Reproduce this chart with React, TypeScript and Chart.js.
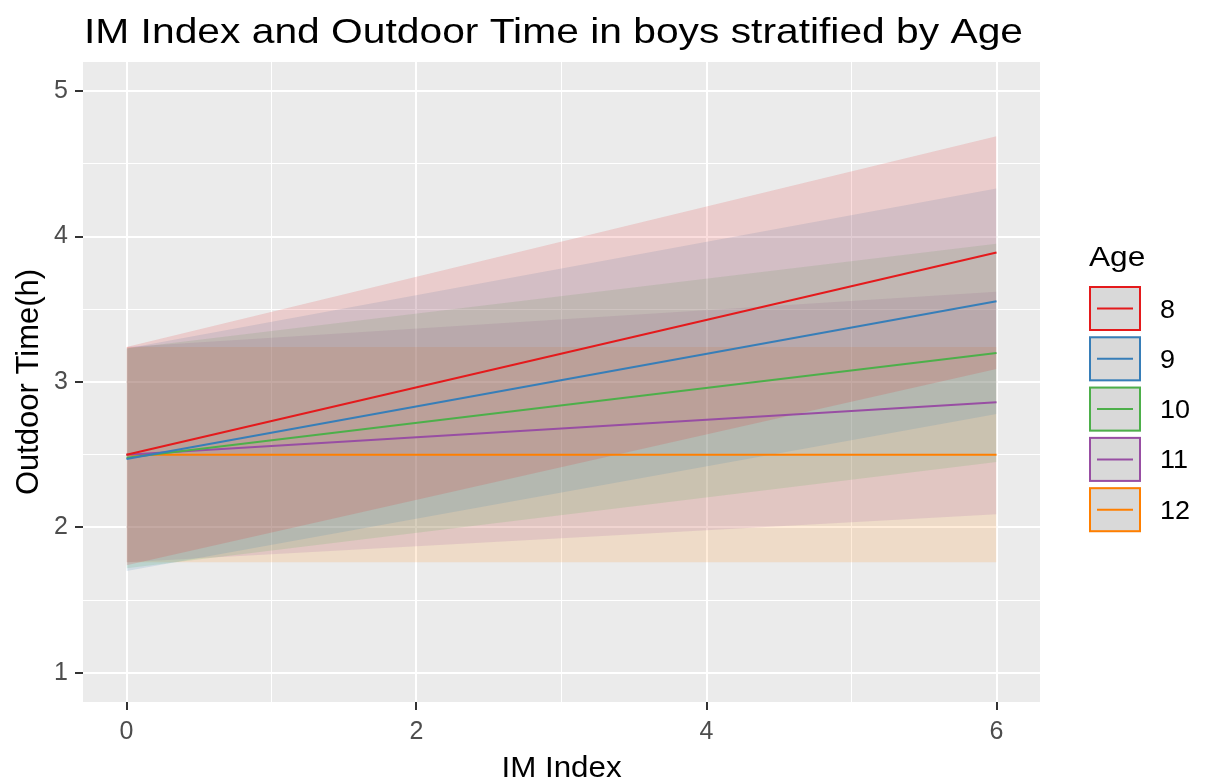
import { useEffect, useRef } from "react";
import { Chart, registerables } from "chart.js";

Chart.register(...registerables);

// IM Index range covered by each fitted line
const imIndex = [0, 6];

// Age groups and their colours (ColorBrewer Set1)
const ages = ["8", "9", "10", "11", "12"];
const ageColors = ["#E41A1C", "#377EB8", "#4DAF4A", "#984EA3", "#FF7F00"];

// Fitted outdoor time at IM Index 0 and 6
const fitStart = [2.5, 2.47, 2.48, 2.5, 2.5];
const fitEnd = [3.89, 3.555, 3.2, 2.86, 2.5];

// Confidence band bounds at IM Index 0 and 6
const upperStart = [3.24, 3.23, 3.23, 3.24, 3.24];
const upperEnd = [4.69, 4.33, 3.95, 3.62, 3.24];
const lowerStart = [1.74, 1.7, 1.72, 1.76, 1.76];
const lowerEnd = [3.09, 2.78, 2.45, 2.09, 1.76];

// Axis ticks (majors labelled, minors only draw a thin grid line)
const xTicks = [0, 1, 2, 3, 4, 5, 6];
const xMajor = [0, 2, 4, 6];
const yTicks = [1, 1.5, 2, 2.5, 3, 3.5, 4, 4.5, 5];
const yMajor = [1, 2, 3, 4, 5];

const chartTitle = "IM Index and Outdoor Time in boys stratified by Age";
const legendTitle = "Age";
const xTitle = "IM Index";
const yTitle = "Outdoor Time(h)";

const FONT = "'Liberation Sans', Arial, Helvetica, sans-serif";

function hexToRgba(hex: string, a: number) {
  const n = parseInt(hex.slice(1), 16);
  return `rgba(${(n >> 16) & 255}, ${(n >> 8) & 255}, ${n & 255}, ${a})`;
}

const pts = (a: number, b: number) => [
  { x: imIndex[0], y: a },
  { x: imIndex[1], y: b },
];

// Draws text with a horizontal stretch factor
function wideText(ctx: CanvasRenderingContext2D, text: string, x: number, y: number, sx: number, align: "left" | "center" = "left") {
  ctx.save();
  ctx.translate(x, y);
  ctx.scale(sx, 1);
  ctx.textAlign = align;
  ctx.fillText(text, 0, 0);
  ctx.restore();
}

const panelPlugin = {
  id: "panelBackground",
  beforeDraw(chart: any) {
    const { ctx, chartArea } = chart;
    ctx.save();
    ctx.fillStyle = "#EBEBEB";
    ctx.fillRect(
      chartArea.left,
      chartArea.top,
      chartArea.right - chartArea.left,
      chartArea.bottom - chartArea.top
    );
    ctx.restore();
  },
};

const textAndLegendPlugin = {
  id: "textAndLegend",
  afterDraw(chart: any) {
    const { ctx, chartArea } = chart;
    ctx.save();
    ctx.fillStyle = "#000";
    ctx.textBaseline = "alphabetic";

    // plot title, left-aligned with the panel
    ctx.font = `35px ${FONT}`;
    wideText(ctx, chartTitle, 84, 43, 1.165);

    // x axis title, centred under the panel
    ctx.font = `29px ${FONT}`;
    wideText(ctx, xTitle, (chartArea.left + chartArea.right) / 2, 777, 1.08, "center");

    // legend
    const lx = 1089;
    ctx.font = `28px ${FONT}`;
    wideText(ctx, legendTitle, lx, 266, 1.13);
    ages.forEach((age, i) => {
      const y = 286 + 50.3 * i;
      const w = 52;
      const h = 45;
      ctx.fillStyle = "#D9D9D9";
      ctx.fillRect(lx, y, w, h);
      ctx.strokeStyle = ageColors[i];
      ctx.lineWidth = 2;
      ctx.strokeRect(lx + 1, y + 1, w - 2, h - 2);
      ctx.beginPath();
      ctx.moveTo(lx + 8, y + h / 2);
      ctx.lineTo(lx + w - 8, y + h / 2);
      ctx.stroke();
      ctx.fillStyle = "#000";
      ctx.font = `25px ${FONT}`;
      wideText(ctx, age, lx + 71, y + h / 2 + 9, 1.08);
    });
    ctx.restore();
  },
};

export default function App() {
  const canvasRef = useRef<HTMLCanvasElement | null>(null);

  useEffect(() => {
    if (!canvasRef.current) return;

    const lineSets = ages.map((age, i) => ({
      label: age,
      data: pts(fitStart[i], fitEnd[i]),
      borderColor: ageColors[i],
      borderWidth: 2,
      pointRadius: 0,
      fill: false,
      order: 0,
    }));

    const bandSets: any[] = [];
    ages.forEach((age, i) => {
      bandSets.push({
        label: `${age} upper`,
        data: pts(upperStart[i], upperEnd[i]),
        borderWidth: 0,
        borderColor: "rgba(0,0,0,0)",
        backgroundColor: hexToRgba(ageColors[i], 0.15),
        pointRadius: 0,
        fill: "+1",
        order: 1,
      });
      bandSets.push({
        label: `${age} lower`,
        data: pts(lowerStart[i], lowerEnd[i]),
        borderWidth: 0,
        borderColor: "rgba(0,0,0,0)",
        pointRadius: 0,
        fill: false,
        order: 1,
      });
    });

    const chart = new Chart(canvasRef.current, {
      type: "line",
      data: { datasets: [...bandSets, ...lineSets] },
      options: {
        animation: false,
        responsive: false,
        layout: { padding: { top: 62, right: 168, left: 0, bottom: 0 } },
        plugins: {
          legend: { display: false },
          tooltip: { enabled: false },
          title: { display: false },
        },
        scales: {
          x: {
            type: "linear",
            min: -0.3,
            max: 6.3,
            afterBuildTicks: (scale: any) => {
              scale.ticks = xTicks.map((v) => ({ value: v }));
            },
            afterFit: (scale: any) => {
              scale.height = 78;
            },
            border: { display: false },
            grid: {
              color: "#FFFFFF",
              lineWidth: (c: any) => (xMajor.includes(c.tick?.value) ? 2 : 1),
              tickColor: (c: any) =>
                xMajor.includes(c.tick?.value) ? "#333333" : "rgba(0,0,0,0)",
              tickLength: 8,
              tickWidth: 2,
            },
            ticks: {
              autoSkip: false,
              maxRotation: 0,
              color: "#4D4D4D",
              font: { size: 25, family: FONT },
              padding: 7,
              callback: (v: any) => (xMajor.includes(Number(v)) ? String(v) : ""),
            },
            title: { display: false, text: xTitle },
          },
          y: {
            type: "linear",
            min: 0.8,
            max: 5.2,
            afterBuildTicks: (scale: any) => {
              scale.ticks = yTicks.map((v) => ({ value: v }));
            },
            afterFit: (scale: any) => {
              scale.width = 83;
            },
            border: { display: false },
            grid: {
              color: "#FFFFFF",
              lineWidth: (c: any) => (yMajor.includes(c.tick?.value) ? 2 : 1),
              tickColor: (c: any) =>
                yMajor.includes(c.tick?.value) ? "#333333" : "rgba(0,0,0,0)",
              tickLength: 8,
              tickWidth: 2,
            },
            ticks: {
              autoSkip: false,
              color: "#4D4D4D",
              font: { size: 25, family: FONT },
              padding: 7,
              callback: (v: any) => (yMajor.includes(Number(v)) ? String(v) : ""),
            },
            title: {
              display: true,
              text: yTitle,
              color: "#000",
              font: { size: 31, family: FONT, lineHeight: 1.2 },
              padding: { top: 11, bottom: 0 },
            },
          },
        },
      },
      plugins: [panelPlugin, textAndLegendPlugin],
    } as any);

    return () => chart.destroy();
  }, []);

  return (
    <div style={{ position: "fixed", left: 0, top: 0, width: 1208, height: 780, background: "#fff" }}>
      <canvas ref={canvasRef} width={1208} height={780} />
    </div>
  );
}
